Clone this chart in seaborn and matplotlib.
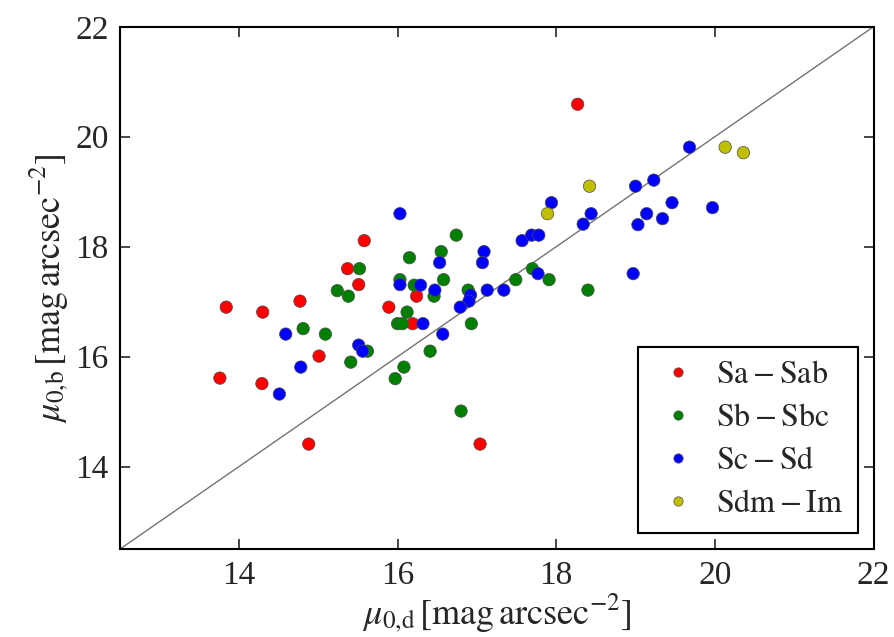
import pandas as pd
import matplotlib
matplotlib.use("Agg")
import matplotlib.pyplot as plt
import seaborn as sns

# Valores (mu_0,d , mu_0,b) por tipo morfológico
sa_x = [15.58, 15.37, 15.51, 14.77, 13.84, 14.30, 15.89, 16.24, 16.19, 15.01,
        13.76, 14.29, 14.88, 17.04, 18.27]
sa_y = [18.11, 17.60, 17.31, 17.01, 16.90, 16.81, 16.90, 17.10, 16.60, 16.01,
        15.61, 15.51, 14.41, 14.41, 20.59]

sb_x = [15.52, 15.24, 15.38, 16.15, 16.03, 16.21, 16.12, 16.00, 16.06, 14.81,
        15.09, 15.62, 15.41, 16.08, 15.97, 16.74, 16.55, 16.58, 16.46, 16.89,
        16.93, 16.41, 17.70, 17.49, 17.91, 18.40, 16.80]
sb_y = [17.60, 17.20, 17.10, 17.80, 17.40, 17.30, 16.81, 16.60, 16.60, 16.51,
        16.41, 16.10, 15.90, 15.81, 15.60, 18.21, 17.91, 17.40, 17.10, 17.21,
        16.60, 16.10, 17.60, 17.40, 17.40, 17.21, 15.01]

sc_x = [14.59, 14.78, 14.51, 15.51, 15.56, 16.03, 16.29, 16.03, 16.53, 16.47,
        16.32, 17.09, 17.07, 16.92, 16.90, 16.79, 17.13, 17.34, 16.57, 17.57,
        17.69, 17.78, 17.77, 18.34, 18.44, 17.94, 18.97, 19.00, 19.23, 19.14,
        19.03, 19.34, 19.46, 19.68, 19.97]
sc_y = [16.41, 15.81, 15.32, 16.21, 16.10, 17.31, 17.30, 18.60, 17.71, 17.21,
        16.60, 17.91, 17.71, 17.12, 17.01, 16.90, 17.21, 17.21, 16.41, 18.11,
        18.21, 18.21, 17.51, 18.41, 18.60, 18.80, 17.51, 19.10, 19.21, 18.60,
        18.40, 18.51, 18.80, 19.81, 18.71]

sdm_x = [18.42, 17.89, 20.13, 20.36]
sdm_y = [19.10, 18.60, 19.81, 19.71]

tipos = [r'$\mathrm{Sa-Sab}$', r'$\mathrm{Sb-Sbc}$', r'$\mathrm{Sc-Sd}$', r'$\mathrm{Sdm-Im}$']
cores = ['#ff0000', '#008000', '#0000ff', '#bfbf00']

df = pd.concat([
    pd.DataFrame({'mu_d': sa_x, 'mu_b': sa_y, 'tipo': tipos[0]}),
    pd.DataFrame({'mu_d': sb_x, 'mu_b': sb_y, 'tipo': tipos[1]}),
    pd.DataFrame({'mu_d': sc_x, 'mu_b': sc_y, 'tipo': tipos[2]}),
    pd.DataFrame({'mu_d': sdm_x, 'mu_b': sdm_y, 'tipo': tipos[3]}),
], ignore_index=True)

sns.set_style('ticks')
plt.rcParams['font.family'] = ['Liberation Serif', 'DejaVu Serif']
plt.rcParams['mathtext.fontset'] = 'stix'
plt.rcParams['xtick.direction'] = 'in'
plt.rcParams['ytick.direction'] = 'in'

fig = plt.figure(figsize=(8.95, 6.37), dpi=100)
ax = fig.add_axes([0.134, 0.138, 0.842, 0.82])

# linha 1:1
ax.plot([12.5, 22], [12.5, 22], color='0.45', lw=1, zorder=1)

sns.scatterplot(data=df, x='mu_d', y='mu_b', hue='tipo', hue_order=tipos,
                palette=dict(zip(tipos, cores)), s=80, edgecolor='0.3',
                linewidth=0.5, ax=ax, zorder=3)

ax.set_xlim(12.5, 22)
ax.set_ylim(12.5, 22)
ax.set_xticks([14, 16, 18, 20, 22])
ax.set_yticks([14, 16, 18, 20, 22])
ax.tick_params(labelsize=24, length=7, width=1.2, top=True, right=True, pad=8)
for sp in ax.spines.values():
    sp.set_linewidth(1.5)
    sp.set_color('black')

ax.set_xlabel(r'$\mu_{0{,}\mathrm{d}}\,[\mathrm{mag\,arcsec^{-2}}]$', fontsize=26, labelpad=0)
ax.set_ylabel(r'$\mu_{0{,}\mathrm{b}}\,[\mathrm{mag\,arcsec^{-2}}]$', fontsize=26, labelpad=4)

leg = ax.legend(loc='lower right', fontsize=23, markerscale=0.75, fancybox=False,
                framealpha=1, edgecolor='black', handlelength=1.6, handletextpad=0.4,
                borderpad=0.45, labelspacing=0.42)
leg.get_frame().set_linewidth(1.5)

fig.savefig('out.png', dpi=100)
